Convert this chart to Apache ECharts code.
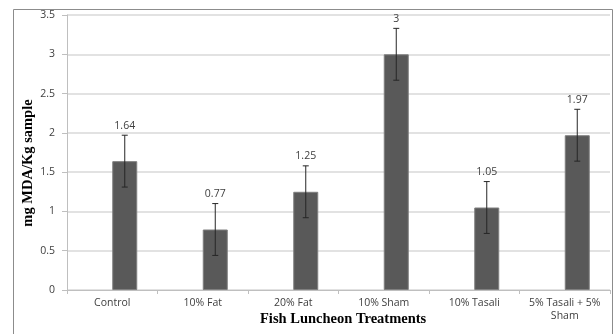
<!DOCTYPE html>
<html><head><meta charset="utf-8">
<script src="https://cdn.jsdelivr.net/npm/echarts@6/dist/echarts.min.js"></script>
<style>html,body{margin:0;padding:0;background:#fff}#c{width:616px;height:334px}</style>
</head><body><div id="c"></div>
<script>
var categories = ['Control', '10% Fat', '20% Fat', '10% Sham', '10% Tasali', '5% Tasali + 5%\nSham'];
var values = [1.64, 0.77, 1.25, 3, 1.05, 1.97];
var errors = [0.33, 0.33, 0.33, 0.33, 0.33, 0.33];
var yTicks = [0, 0.5, 1, 1.5, 2, 2.5, 3, 3.5];
var xTitle = 'Fish Luncheon Treatments';
var yTitle = 'mg MDA/Kg sample';

var BAR_W = 25;
var chart = echarts.init(document.getElementById('c'));
var errData = values.map(function (v, i) { return [i, v, errors[i]]; });

chart.setOption({
  animation: false,
  backgroundColor: '#fff',
  grid: { left: 67, right: 6, top: 15, bottom: 44 },
  xAxis: {
    type: 'category', data: categories,
    axisLine: { lineStyle: { color: '#bfbfbf', width: 1 } },
    axisTick: { show: true, length: 4, lineStyle: { color: '#bfbfbf' } },
    axisLabel: { color: '#404040', fontFamily: 'Open Sans', fontSize: 10.5, margin: 7, lineHeight: 13, interval: 0 }
  },
  yAxis: {
    type: 'value', min: yTicks[0], max: yTicks[yTicks.length - 1], interval: 0.5,
    axisLine: { show: true, lineStyle: { color: '#bfbfbf' } },
    axisTick: { show: true, length: 5, lineStyle: { color: '#bfbfbf' } },
    axisLabel: { color: '#404040', fontFamily: 'Open Sans', fontSize: 10.5, margin: 12 },
    splitLine: { lineStyle: { color: '#d9d9d9', width: 1.5 } }
  },
  series: [
    { type: 'bar', data: values.map(function () { return null; }), barWidth: BAR_W, barGap: '0%' },
    { type: 'bar', data: values, barWidth: BAR_W, barGap: '0%',
      itemStyle: { color: '#595959', borderColor: '#7f7f7f', borderWidth: 1 } },
    { type: 'custom', data: errData, z: 10,
      renderItem: function (params, api) {
        var i = api.value(0), v = api.value(1), e = api.value(2);
        var top = api.coord([i, v + e]);
        var bot = api.coord([i, v - e]);
        var x = top[0] + BAR_W / 2;
        var cap = 3;
        return { type: 'group', children: [
          { type: 'line', shape: { x1: x, y1: top[1], x2: x, y2: bot[1] }, style: { stroke: '#262626', lineWidth: 1 } },
          { type: 'line', shape: { x1: x - cap, y1: top[1], x2: x + cap, y2: top[1] }, style: { stroke: '#262626', lineWidth: 1 } },
          { type: 'line', shape: { x1: x - cap, y1: bot[1], x2: x + cap, y2: bot[1] }, style: { stroke: '#262626', lineWidth: 1 } },
          { type: 'text', style: { x: x, y: top[1] - 4, text: String(v), align: 'center', verticalAlign: 'bottom',
            fill: '#404040', font: '10.5px "Open Sans"' } }
        ] };
      }
    }
  ],
  graphic: [
    { type: 'rect', shape: { x: 13.5, y: 9.5, width: 599, height: 340 }, style: { fill: 'none', stroke: '#8c8c8c', lineWidth: 1 }, silent: true },
    { type: 'text', left: 260, top: 312, style: { text: xTitle, font: 'bold 14.5px "Liberation Serif"', fill: '#000' } },
    { type: 'text', x: 28, y: 163, rotation: Math.PI / 2,
      style: { text: yTitle, font: 'bold 14.5px "Liberation Serif"', fill: '#000', align: 'center', verticalAlign: 'middle' } }
  ]
});
</script></body></html>
